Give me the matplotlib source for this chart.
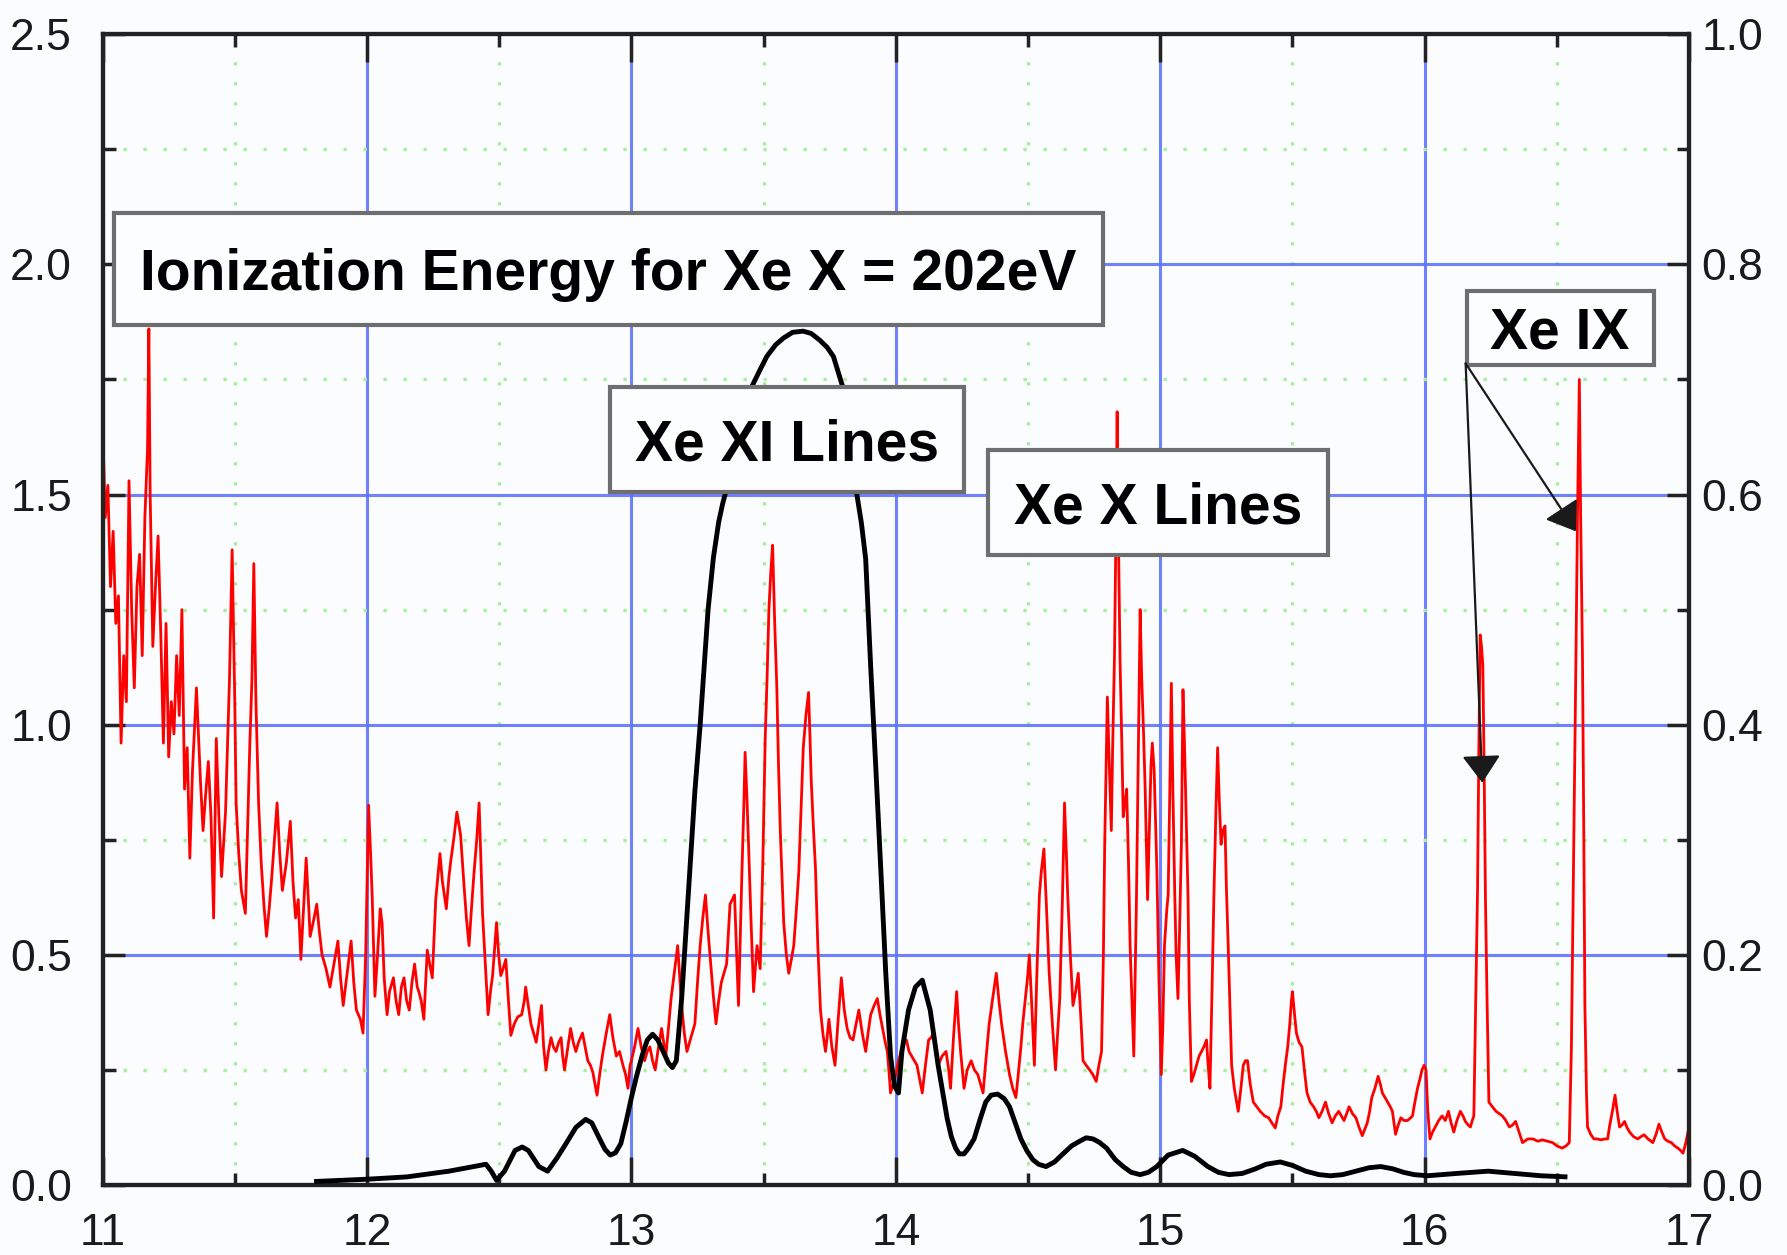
import numpy as np
import matplotlib.pyplot as plt
from matplotlib.patches import Rectangle
from matplotlib.ticker import MultipleLocator, FormatStrFormatter

# Xe emission spectrum (left axis), (wavelength nm, intensity) per 1 nm window
spec_11_12 = [
    (11.00, 1.66), (11.01, 1.45), (11.02, 1.52), (11.03, 1.30), (11.04, 1.42), (11.05, 1.22),
    (11.06, 1.28), (11.07, 0.96), (11.08, 1.15), (11.09, 1.05), (11.10, 1.53), (11.11, 1.25),
    (11.12, 1.08), (11.13, 1.30), (11.14, 1.37), (11.15, 1.15), (11.16, 1.45), (11.17, 1.60),
    (11.175, 1.86), (11.18, 1.50), (11.19, 1.17), (11.20, 1.30), (11.21, 1.41), (11.22, 1.20),
    (11.23, 0.96), (11.24, 1.22), (11.25, 0.93), (11.26, 1.05), (11.27, 0.98), (11.28, 1.15),
    (11.29, 1.02), (11.30, 1.25), (11.31, 0.86), (11.32, 0.95), (11.33, 0.71), (11.34, 0.90),
    (11.355, 1.08), (11.37, 0.88), (11.38, 0.77), (11.39, 0.85), (11.40, 0.92), (11.41, 0.80),
    (11.42, 0.58), (11.43, 0.97), (11.44, 0.80), (11.45, 0.67), (11.465, 0.81), (11.48, 1.10),
    (11.49, 1.38), (11.50, 1.05), (11.505, 0.83), (11.515, 0.72), (11.525, 0.64), (11.54, 0.59),
    (11.557, 0.96), (11.565, 1.10), (11.572, 1.35), (11.58, 1.05), (11.59, 0.83), (11.60, 0.70),
    (11.61, 0.61), (11.62, 0.54), (11.63, 0.60), (11.64, 0.67), (11.65, 0.75), (11.66, 0.83),
    (11.67, 0.72), (11.68, 0.64), (11.695, 0.70), (11.71, 0.79), (11.72, 0.66), (11.73, 0.58),
    (11.74, 0.62), (11.75, 0.49), (11.76, 0.60), (11.77, 0.71), (11.78, 0.60), (11.785, 0.54),
    (11.80, 0.58), (11.81, 0.61), (11.82, 0.55), (11.83, 0.50), (11.845, 0.47), (11.86, 0.43),
    (11.875, 0.48), (11.89, 0.53), (11.90, 0.45), (11.91, 0.39), (11.925, 0.46), (11.94, 0.53),
    (11.95, 0.44), (11.96, 0.38), (11.975, 0.36), (11.985, 0.33), (11.995, 0.50),
]
spec_12_13 = [
    (12.006, 0.825), (12.015, 0.70), (12.02, 0.62), (12.03, 0.41), (12.04, 0.50), (12.05, 0.60),
    (12.057, 0.57), (12.065, 0.45), (12.076, 0.37), (12.085, 0.42), (12.10, 0.45), (12.11, 0.40),
    (12.12, 0.37), (12.13, 0.43), (12.14, 0.45), (12.15, 0.40), (12.16, 0.38), (12.17, 0.44),
    (12.18, 0.48), (12.19, 0.43), (12.196, 0.42), (12.205, 0.40), (12.215, 0.36), (12.228, 0.51),
    (12.237, 0.48), (12.247, 0.45), (12.26, 0.62), (12.276, 0.72), (12.285, 0.66), (12.30, 0.60),
    (12.31, 0.67), (12.316, 0.70), (12.33, 0.76), (12.34, 0.81), (12.354, 0.76), (12.367, 0.65),
    (12.376, 0.58), (12.386, 0.52), (12.395, 0.60), (12.405, 0.68), (12.415, 0.75), (12.424, 0.83),
    (12.437, 0.59), (12.45, 0.455), (12.458, 0.37), (12.467, 0.42), (12.475, 0.455), (12.49, 0.57),
    (12.498, 0.50), (12.506, 0.455), (12.515, 0.47), (12.525, 0.49), (12.535, 0.40), (12.544, 0.325),
    (12.557, 0.35), (12.57, 0.365), (12.585, 0.37), (12.595, 0.40), (12.60, 0.43), (12.61, 0.39),
    (12.62, 0.35), (12.63, 0.33), (12.64, 0.31), (12.65, 0.35), (12.66, 0.39), (12.668, 0.30),
    (12.677, 0.25), (12.686, 0.29), (12.696, 0.32), (12.705, 0.30), (12.715, 0.29), (12.725, 0.31),
    (12.734, 0.32), (12.74, 0.28), (12.747, 0.25), (12.76, 0.30), (12.77, 0.34), (12.78, 0.31),
    (12.79, 0.29), (12.80, 0.31), (12.815, 0.33), (12.825, 0.30), (12.835, 0.27), (12.845, 0.26),
    (12.854, 0.245), (12.862, 0.22), (12.87, 0.195), (12.88, 0.24), (12.89, 0.28), (12.905, 0.33),
    (12.918, 0.37), (12.93, 0.32), (12.943, 0.28), (12.955, 0.29), (12.968, 0.26), (12.978, 0.24),
    (12.987, 0.21), (12.995, 0.26),
]
spec_13_14 = [
    (13.00, 0.27), (13.012, 0.30), (13.025, 0.34), (13.037, 0.30), (13.05, 0.27), (13.06, 0.29),
    (13.07, 0.30), (13.08, 0.27), (13.09, 0.25), (13.10, 0.29), (13.114, 0.34), (13.122, 0.31),
    (13.13, 0.28), (13.14, 0.34), (13.15, 0.405), (13.162, 0.46), (13.175, 0.52), (13.183, 0.45),
    (13.19, 0.39), (13.20, 0.33), (13.21, 0.29), (13.22, 0.31), (13.23, 0.33), (13.24, 0.35),
    (13.25, 0.44), (13.26, 0.52), (13.27, 0.58), (13.28, 0.63), (13.29, 0.55), (13.30, 0.48),
    (13.31, 0.41), (13.32, 0.35), (13.33, 0.40), (13.34, 0.44), (13.35, 0.46), (13.36, 0.48),
    (13.373, 0.61), (13.39, 0.63), (13.398, 0.50), (13.405, 0.39), (13.412, 0.55), (13.418, 0.68),
    (13.425, 0.82), (13.43, 0.94), (13.437, 0.84), (13.443, 0.74), (13.452, 0.58), (13.462, 0.42),
    (13.47, 0.48), (13.475, 0.52), (13.487, 0.47), (13.497, 0.70), (13.506, 0.97), (13.513, 1.10),
    (13.52, 1.25), (13.527, 1.33), (13.534, 1.39), (13.542, 1.22), (13.55, 1.08), (13.556, 0.92),
    (13.563, 0.77), (13.57, 0.66), (13.576, 0.57), (13.586, 0.50), (13.595, 0.46), (13.605, 0.49),
    (13.614, 0.52), (13.624, 0.60), (13.633, 0.68), (13.642, 0.82), (13.65, 0.95), (13.66, 1.02),
    (13.67, 1.07), (13.675, 0.98), (13.68, 0.88), (13.688, 0.78), (13.696, 0.69), (13.705, 0.52),
    (13.715, 0.38), (13.724, 0.33), (13.734, 0.29), (13.74, 0.32), (13.747, 0.36), (13.758, 0.30),
    (13.77, 0.26), (13.782, 0.36), (13.794, 0.45), (13.805, 0.38), (13.816, 0.34), (13.827, 0.32),
    (13.838, 0.315), (13.85, 0.35), (13.86, 0.38), (13.873, 0.33), (13.886, 0.29), (13.895, 0.33),
    (13.905, 0.37), (13.918, 0.39), (13.93, 0.405), (13.94, 0.37), (13.95, 0.34), (13.96, 0.31),
    (13.968, 0.29), (13.975, 0.24), (13.98, 0.20), (13.99, 0.22),
]
spec_14_15 = [
    (14.00, 0.24), (14.01, 0.27), (14.02, 0.29), (14.03, 0.31), (14.04, 0.315), (14.05, 0.29),
    (14.06, 0.28), (14.07, 0.27), (14.08, 0.26), (14.09, 0.23), (14.10, 0.20), (14.112, 0.26),
    (14.124, 0.315), (14.133, 0.32), (14.143, 0.33), (14.152, 0.29), (14.16, 0.26), (14.175, 0.28),
    (14.19, 0.29), (14.20, 0.25), (14.207, 0.21), (14.218, 0.32), (14.23, 0.42), (14.237, 0.35),
    (14.245, 0.29), (14.258, 0.21), (14.27, 0.25), (14.285, 0.27), (14.297, 0.25), (14.31, 0.24),
    (14.32, 0.22), (14.33, 0.20), (14.342, 0.28), (14.353, 0.35), (14.365, 0.40), (14.38, 0.46),
    (14.39, 0.40), (14.40, 0.35), (14.415, 0.29), (14.43, 0.24), (14.442, 0.21), (14.454, 0.19),
    (14.463, 0.24), (14.473, 0.30), (14.48, 0.35), (14.49, 0.405), (14.498, 0.45), (14.505, 0.50),
    (14.515, 0.38), (14.524, 0.26), (14.533, 0.45), (14.543, 0.63), (14.55, 0.68), (14.56, 0.73),
    (14.57, 0.60), (14.58, 0.46), (14.592, 0.35), (14.604, 0.25), (14.612, 0.33), (14.62, 0.405),
    (14.63, 0.62), (14.638, 0.83), (14.645, 0.72), (14.65, 0.63), (14.66, 0.50), (14.67, 0.39),
    (14.68, 0.42), (14.69, 0.46), (14.70, 0.36), (14.708, 0.27), (14.72, 0.26), (14.733, 0.25),
    (14.745, 0.24), (14.758, 0.225), (14.768, 0.26), (14.778, 0.29), (14.785, 0.50), (14.79, 0.74),
    (14.795, 0.90), (14.80, 1.06), (14.807, 0.92), (14.815, 0.77), (14.82, 0.95), (14.827, 1.15),
    (14.832, 1.40), (14.837, 1.68), (14.842, 1.40), (14.848, 1.14), (14.855, 0.95), (14.86, 0.80),
    (14.867, 0.83), (14.873, 0.86), (14.88, 0.70), (14.886, 0.52), (14.893, 0.40), (14.90, 0.28),
    (14.91, 0.62), (14.918, 0.97), (14.924, 1.25), (14.93, 1.10), (14.937, 0.98), (14.943, 0.86),
    (14.952, 0.62), (14.958, 0.75), (14.965, 0.91), (14.97, 0.96), (14.977, 0.90), (14.987, 0.69),
    (14.995, 0.45),
]
spec_15_16 = [
    (15.004, 0.24), (15.01, 0.35), (15.016, 0.52), (15.025, 0.60), (15.03, 0.63), (15.036, 0.85),
    (15.042, 1.09), (15.048, 0.85), (15.055, 0.63), (15.06, 0.50), (15.067, 0.405), (15.073, 0.55),
    (15.08, 0.74), (15.086, 1.076), (15.092, 0.95), (15.098, 0.80), (15.105, 0.63), (15.11, 0.40),
    (15.118, 0.225), (15.127, 0.24), (15.137, 0.26), (15.147, 0.28), (15.156, 0.29), (15.165, 0.30),
    (15.175, 0.315), (15.18, 0.27), (15.188, 0.21), (15.195, 0.40), (15.203, 0.63), (15.21, 0.80),
    (15.217, 0.95), (15.223, 0.84), (15.23, 0.74), (15.237, 0.77), (15.245, 0.78), (15.25, 0.65),
    (15.257, 0.52), (15.263, 0.40), (15.27, 0.26), (15.28, 0.21), (15.295, 0.16), (15.305, 0.21),
    (15.314, 0.26), (15.322, 0.27), (15.33, 0.27), (15.34, 0.22), (15.352, 0.18), (15.365, 0.17),
    (15.378, 0.16), (15.395, 0.15), (15.41, 0.146), (15.422, 0.135), (15.435, 0.124), (15.445, 0.15),
    (15.456, 0.17), (15.465, 0.22), (15.473, 0.26), (15.482, 0.30), (15.49, 0.35), (15.496, 0.40),
    (15.50, 0.42), (15.508, 0.37), (15.515, 0.33), (15.525, 0.31), (15.536, 0.30), (15.545, 0.25),
    (15.555, 0.20), (15.567, 0.18), (15.58, 0.17), (15.59, 0.16), (15.60, 0.146), (15.612, 0.16),
    (15.625, 0.18), (15.637, 0.155), (15.65, 0.135), (15.662, 0.15), (15.675, 0.16), (15.685, 0.15),
    (15.695, 0.14), (15.705, 0.155), (15.714, 0.17), (15.727, 0.155), (15.74, 0.146), (15.752, 0.125),
    (15.764, 0.107), (15.773, 0.12), (15.783, 0.135), (15.792, 0.16), (15.80, 0.19), (15.812, 0.21),
    (15.824, 0.236), (15.832, 0.22), (15.84, 0.20), (15.85, 0.19), (15.86, 0.18), (15.87, 0.17),
    (15.878, 0.16), (15.89, 0.11), (15.90, 0.13), (15.91, 0.146), (15.922, 0.14), (15.935, 0.14),
    (15.945, 0.145), (15.954, 0.15), (15.963, 0.18), (15.973, 0.21), (15.982, 0.23), (15.99, 0.25),
    (15.998, 0.26),
]
spec_16_17 = [
    (16.005, 0.25), (16.012, 0.16), (16.02, 0.10), (16.03, 0.115), (16.04, 0.126), (16.053, 0.14),
    (16.066, 0.15), (16.078, 0.14), (16.09, 0.16), (16.10, 0.135), (16.11, 0.115), (16.122, 0.14),
    (16.135, 0.16), (16.145, 0.15), (16.154, 0.138), (16.165, 0.13), (16.173, 0.126), (16.18, 0.14),
    (16.186, 0.15), (16.193, 0.40), (16.20, 0.64), (16.205, 0.95), (16.21, 1.195), (16.215, 1.17),
    (16.22, 1.13), (16.225, 0.90), (16.23, 0.62), (16.236, 0.40), (16.243, 0.18), (16.256, 0.17),
    (16.27, 0.16), (16.282, 0.155), (16.294, 0.15), (16.307, 0.14), (16.32, 0.126), (16.332, 0.13),
    (16.344, 0.138), (16.357, 0.115), (16.37, 0.092), (16.39, 0.10), (16.41, 0.10), (16.428, 0.095),
    (16.445, 0.098), (16.465, 0.095), (16.484, 0.092), (16.50, 0.085), (16.52, 0.08), (16.535, 0.085),
    (16.547, 0.092), (16.555, 0.30), (16.562, 0.64), (16.567, 0.90), (16.572, 1.14), (16.578, 1.45),
    (16.585, 1.75), (16.59, 1.45), (16.597, 1.14), (16.602, 0.75), (16.606, 0.39), (16.612, 0.20),
    (16.616, 0.126), (16.628, 0.11), (16.64, 0.10), (16.653, 0.10), (16.667, 0.098), (16.68, 0.10),
    (16.692, 0.10), (16.70, 0.13), (16.71, 0.16), (16.72, 0.195), (16.728, 0.16), (16.737, 0.126),
    (16.746, 0.13), (16.756, 0.138), (16.765, 0.125), (16.775, 0.115), (16.79, 0.105), (16.806, 0.10),
    (16.818, 0.105), (16.83, 0.109), (16.845, 0.10), (16.863, 0.092), (16.875, 0.11), (16.886, 0.132),
    (16.897, 0.115), (16.908, 0.10), (16.92, 0.095), (16.933, 0.092), (16.945, 0.085), (16.958, 0.08),
    (16.968, 0.075), (16.977, 0.069), (16.987, 0.09), (16.996, 0.115),
]

# Mo/Si mirror reflectivity (right axis), (wavelength nm, reflectivity)
mirror_pts = [
    (11.80, 0.003), (12.00, 0.005), (12.15, 0.007), (12.31, 0.012), (12.45, 0.018),
    (12.47, 0.012), (12.49, 0.004), (12.52, 0.012), (12.56, 0.030), (12.587, 0.033),
    (12.61, 0.030), (12.65, 0.016), (12.683, 0.012), (12.72, 0.024), (12.75, 0.035),
    (12.79, 0.050), (12.827, 0.057), (12.85, 0.054), (12.88, 0.040), (12.90, 0.031),
    (12.92, 0.026), (12.94, 0.028), (12.96, 0.036), (12.98, 0.055), (13.00, 0.076),
    (13.02, 0.095), (13.04, 0.112), (13.06, 0.126), (13.08, 0.131), (13.10, 0.126),
    (13.12, 0.116), (13.14, 0.106), (13.155, 0.102), (13.17, 0.108), (13.19, 0.162),
    (13.215, 0.252), (13.24, 0.342), (13.26, 0.400), (13.29, 0.500), (13.31, 0.545),
    (13.33, 0.576), (13.345, 0.592), (13.36, 0.605), (13.38, 0.630), (13.40, 0.656),
    (13.43, 0.680), (13.46, 0.696), (13.49, 0.710), (13.512, 0.720), (13.545, 0.730),
    (13.575, 0.736), (13.61, 0.741), (13.649, 0.742), (13.68, 0.740), (13.713, 0.734),
    (13.74, 0.728), (13.764, 0.720), (13.78, 0.708), (13.80, 0.693), (13.825, 0.660),
    (13.852, 0.601), (13.87, 0.575), (13.886, 0.544), (13.905, 0.450), (13.924, 0.364),
    (13.943, 0.275), (13.962, 0.184), (13.98, 0.112), (13.995, 0.086), (14.01, 0.080),
    (14.023, 0.116), (14.048, 0.152), (14.074, 0.172), (14.10, 0.178), (14.13, 0.152),
    (14.16, 0.104), (14.194, 0.058), (14.21, 0.042), (14.226, 0.032), (14.24, 0.027),
    (14.258, 0.027), (14.275, 0.032), (14.296, 0.040), (14.32, 0.058), (14.34, 0.072),
    (14.36, 0.078), (14.385, 0.079), (14.41, 0.075), (14.43, 0.068), (14.45, 0.055),
    (14.473, 0.040), (14.495, 0.030), (14.518, 0.022), (14.54, 0.018), (14.568, 0.016),
    (14.60, 0.020), (14.632, 0.027), (14.665, 0.034), (14.695, 0.038), (14.72, 0.041),
    (14.746, 0.040), (14.77, 0.037), (14.797, 0.032), (14.83, 0.022), (14.86, 0.016),
    (14.89, 0.011), (14.924, 0.009), (14.955, 0.011), (14.987, 0.016), (15.03, 0.026),
    (15.085, 0.030), (15.13, 0.025), (15.18, 0.016), (15.22, 0.011), (15.26, 0.009),
    (15.31, 0.010), (15.36, 0.014), (15.40, 0.018), (15.454, 0.020), (15.50, 0.017),
    (15.55, 0.012), (15.60, 0.009), (15.644, 0.008), (15.69, 0.009), (15.74, 0.012),
    (15.79, 0.015), (15.834, 0.016), (15.88, 0.014), (15.92, 0.011), (15.96, 0.009),
    (16.01, 0.008), (16.12, 0.010), (16.24, 0.012), (16.34, 0.010), (16.44, 0.008),
    (16.54, 0.007),
]

x_ticks = [11, 12, 13, 14, 15, 16, 17]

spectrum = np.array(spec_11_12 + spec_12_13 + spec_13_14 + spec_14_15 + spec_15_16 + spec_16_17)
mirror = np.array(mirror_pts)

tick_font = ['Liberation Sans', 'DejaVu Sans']
box_font = ['Liberation Sans', 'DejaVu Sans']

fig = plt.figure(figsize=(17.87, 12.55), dpi=100, facecolor='#fafcfd')
ax = fig.add_axes([0.0574, 0.0558, 0.8878, 0.9169])
ax.set_facecolor('#fafcfd')
ax2 = ax.twinx()

ax.plot(spectrum[:, 0], spectrum[:, 1], color='#ff0000', lw=2.0, zorder=2,
        solid_joinstyle='round')
ax2.plot(mirror[:, 0], mirror[:, 1], color='black', lw=3.5, zorder=3,
         solid_joinstyle='round', solid_capstyle='butt')

ax.set_xlim(11, 17)
ax.set_ylim(0, 2.5)
ax2.set_ylim(0, 1.0)

ax.set_xticks(x_ticks)
ax.xaxis.set_minor_locator(MultipleLocator(0.5))
ax.yaxis.set_major_locator(MultipleLocator(0.5))
ax.yaxis.set_minor_locator(MultipleLocator(0.25))
ax.yaxis.set_major_formatter(FormatStrFormatter('%.1f'))
ax2.yaxis.set_major_locator(MultipleLocator(0.2))
ax2.yaxis.set_minor_locator(MultipleLocator(0.1))
ax2.yaxis.set_major_formatter(FormatStrFormatter('%.1f'))

ax.set_axisbelow(True)
ax.grid(which='major', color='#5f74ff', lw=2.2, alpha=0.9)
ax.grid(which='minor', color='#a8f0a0', lw=2.4, linestyle=(0, (1, 5)))

ax.tick_params(which='both', direction='in', top=True, right=False, width=2.5,
               color='#222222', labelsize=32)
ax.tick_params(which='major', length=16)
ax.tick_params(which='minor', length=9)
ax.tick_params(axis='x', which='major', pad=20, length=20)
ax.tick_params(axis='y', which='major', pad=22)
ax2.tick_params(which='both', direction='in', width=2.5, color='#222222', labelsize=32, pad=9)
ax2.tick_params(which='major', length=16)
ax2.tick_params(which='minor', length=9)

for a in (ax, ax2):
    for lab in a.get_xticklabels() + a.get_yticklabels():
        lab.set_family(tick_font)
        lab.set_color('#1a1a1a')
    for sp in a.spines.values():
        sp.set_linewidth(3)
        sp.set_color('#222222')

# Text boxes, given in left-axis units: (x0, x1, y0, y1, text)
boxes = [
    (11.043, 14.784, 1.869, 2.111, 'Ionization Energy for Xe X = 202eV'),
    (12.918, 14.259, 1.505, 1.733, 'Xe XI Lines'),
    (14.349, 15.634, 1.369, 1.597, 'Xe X Lines'),
    (16.159, 16.866, 1.782, 1.943, 'Xe IX'),
]
for x0, x1, y0, y1, label in boxes:
    ax2.add_patch(Rectangle((x0, y0), x1 - x0, y1 - y0, transform=ax.transData,
                            facecolor='#fcfdfe', edgecolor='#6e6e6e', lw=3, zorder=10,
                            clip_on=False))
    ax2.text((x0 + x1) / 2, (y0 + y1) / 2, label, transform=ax.transData,
             ha='center', va='center_baseline', fontsize=41, fontweight='bold',
             family=box_font, color='black', zorder=11)

# Arrows from the Xe IX box to its two lines
arrow_start = (16.155, 1.785)
for tip in [(16.218, 0.874), (16.572, 1.42)]:
    ax2.annotate('', xy=tip, xytext=arrow_start, xycoords=ax.transData,
                 textcoords=ax.transData,
                 arrowprops=dict(arrowstyle='-|>,head_length=0.85,head_width=0.6',
                                 mutation_scale=20, lw=1.6, color='#1a1a1a',
                                 shrinkA=0, shrinkB=0),
                 zorder=12)

fig.savefig('out.png', dpi=100, facecolor=fig.get_facecolor())
